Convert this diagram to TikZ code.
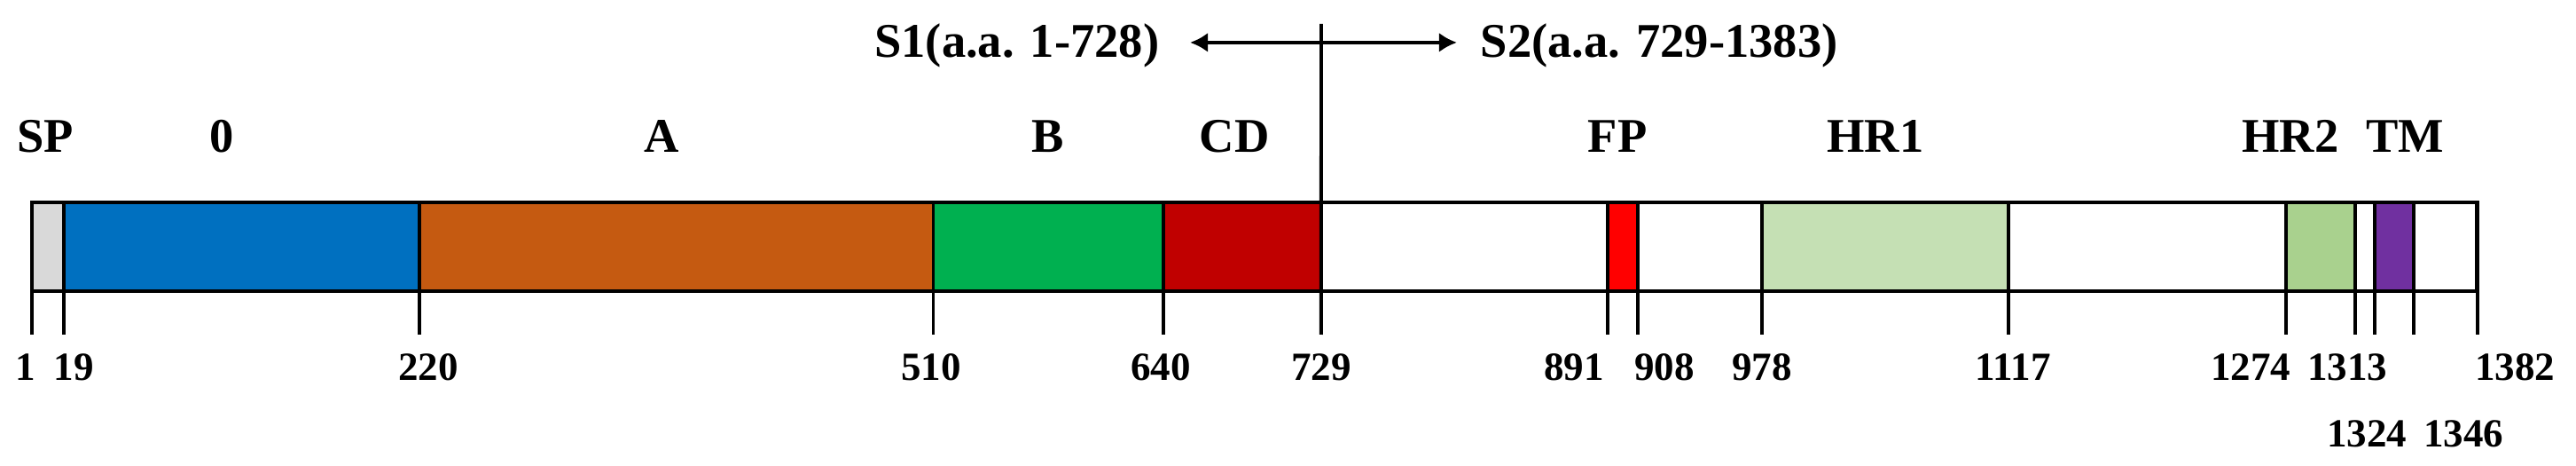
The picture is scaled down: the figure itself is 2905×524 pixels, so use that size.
\documentclass[tikz,border=0pt]{standalone}
\usepackage{fontspec}
\setmainfont{Liberation Serif}
\usetikzlibrary{arrows.meta}

\definecolor{spgray}{HTML}{D9D9D9}
\definecolor{ntdblue}{HTML}{0070C0}
\definecolor{ntdorange}{HTML}{C55A11}
\definecolor{rbdgreen}{HTML}{00B050}
\definecolor{cdred}{HTML}{C00000}
\definecolor{fpred}{HTML}{FF0000}
\definecolor{hrlight}{HTML}{C5E0B4}
\definecolor{hrgreen}{HTML}{A9D18E}
\definecolor{tmpurple}{HTML}{7030A0}

\begin{document}
\begin{tikzpicture}
[
x=0.01cm, y=0.01cm,
>={Latex[length=0.2cm,width=0.22cm]},
segment/.style={draw,line width=1.1pt},
domname/.style={font=\fontsize{15.5}{18}\selectfont\bfseries,inner sep=0pt,anchor=base},
resnum/.style={font=\fontsize{12.8}{15}\selectfont\bfseries,inner sep=0pt,anchor=base}
]
\useasboundingbox (0,0) rectangle (2905,524);

% the bar, x in residues
\begin{scope}[shift={(34,0)},x=0.01996cm]
  \fill[white] (1,196) rectangle (1382,296);
  \foreach \from/\to/\col in {1/19/spgray,19/220/ntdblue,220/510/ntdorange,
    510/640/rbdgreen,640/729/cdred,891/908/fpred,978/1117/hrlight,
    1274/1313/hrgreen,1324/1346/tmpurple}
    \fill[\col] (\from,196) rectangle (\to,296);
  \foreach \n in {1,19,220,510,640,729,891,908,978,1117,1274,1313,1324,1346,1382} {
    \coordinate (t\n) at (\n,147);
    \draw[segment] (\n,296) -- (t\n);
  }
  \draw[line width=1.4pt] (1,196) rectangle (1382,296);
\end{scope}

% domain names
\foreach \name/\x [count=\i] in {SP/51,0/250,A/746,B/1182,CD/1392,FP/1824,
  HR1/2115,HR2/2583,TM/2712}
  \node[domname] (dom\i) at (\x,352) {\name};

% residue numbers
\foreach \n/\x/\y in {1/29/96,19/83/96,220/483/96,510/1050/96,640/1309/96,
  729/1490/96,891/1775/96,908/1877/96,978/1987/96,1117/2270/96,
  1274/2538/96,1313/2647/96,1382/2836/96,1324/2669/21,1346/2778/21}
  \node[resnum] (n\n) at (\x,\y) {\n};

% S1/S2 cleavage site
\node[domname,anchor=base east] (s1) at (1308,459) {S1(a.a. 1-728)};
\node[domname,anchor=base west] (s2) at (1669,459) {S2(a.a. 729-1383)};
\draw[<->,line width=1.1pt,shorten <=0.34cm,shorten >=0.26cm]
  ([yshift=0.04cm]s1.east) -- ([yshift=0.04cm]s2.west);
\coordinate (cut) at (1490,497);
\draw[segment] (cut) -- (t729);

\end{tikzpicture}
\end{document}
